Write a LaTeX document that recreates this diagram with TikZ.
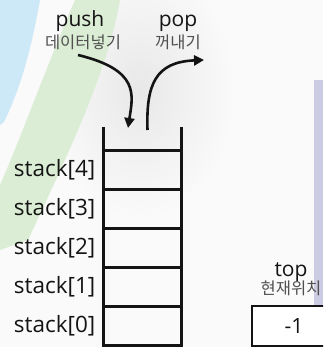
\documentclass[tikz,border=0pt]{standalone}
\usepackage{fontspec}
\setmainfont{Open Sans}
\newfontfamily\kr{Noto Sans CJK KR}
\usetikzlibrary{arrows.meta}

\definecolor{ink}{HTML}{141414}
\definecolor{subink}{HTML}{505050}
\definecolor{skyband}{HTML}{CDE8F7}
\definecolor{leafband}{HTML}{DBEDD4}
\definecolor{mist}{HTML}{E8E8E8}
\definecolor{lilac}{HTML}{CBCBE3}
\definecolor{paper}{HTML}{FAFAFA}

\tikzset{
  cell/.style={draw=ink, line width=3pt, minimum width=78pt, minimum height=39pt,
               inner sep=0pt, outer sep=0pt},
  wall/.style={draw=ink, line width=3pt},
  idx/.style={font=\fontsize{22.5}{24}\selectfont, text=ink, inner sep=0pt, anchor=east},
  opname/.style={font=\fontsize{21}{22}\selectfont, text=ink, inner sep=0pt, anchor=base},
  opnote/.style={font=\kr\fontsize{16.5}{18}\selectfont, text=subink, inner sep=0pt, anchor=base},
  flow/.style={draw=ink, line width=2.6pt, -{Triangle[length=10pt,width=10pt]}},
  topbox/.style={draw=ink, line width=2.8pt, minimum width=84pt, minimum height=40pt,
                 inner sep=0pt, outer sep=0pt, fill=white, font=\fontsize{21}{22}\selectfont, text=ink}
}

\begin{document}
\begin{tikzpicture}[x=1pt,y=-1pt]
\useasboundingbox (0,0) rectangle (323,347);
\clip (0,0) rectangle (323,347);

% soft backdrop
\fill[paper] (0,0) rectangle (323,347);
\shade[inner color=mist, outer color=paper] (140,90) ellipse (95 and 130);
\fill[skyband] (0,0) -- (40,0) .. controls (32,45) and (22,85) .. (4,122) -- (0,125) -- cycle;
\fill[leafband] (75,0) -- (120,0) .. controls (108,70) and (70,150) .. (28,240)
  -- (0,250) -- (0,185) .. controls (20,140) and (45,70) .. (75,0) -- cycle;
\fill[lilac] (314,80) rectangle (323,347);

% stack cells, bottom to top
\node[cell] (c0) at (142.5,326) {};
\node[cell] (c1) at (142.5,287) {};
\node[cell] (c2) at (142.5,248) {};
\node[cell] (c3) at (142.5,209) {};
\node[cell] (c4) at (142.5,170) {};

% open top of the stack
\coordinate (lw) at (103.5,127);
\coordinate (rw) at (181.5,127);
\draw[wall] (c4.north west) -- (c4.north west |- lw);
\draw[wall] (c4.north east) -- (c4.north east |- rw);

% index labels
\foreach \i in {0,...,4}
  \node[idx] (l\i) at ([xshift=-8pt]c\i.west) {stack[\i]};

% operation captions
\node[opname] (push) at (80,27) {push};
\node[opnote] (pushk) at (83,49) {\kr 데이터넣기};
\node[opname] (pop) at (178,27) {pop};
\node[opnote] (popk) at (178,49) {\kr 꺼내기};

% push / pop arrows
\coordinate (pushs) at (78,55);
\coordinate (pushe) at (128,128);
\coordinate (pops) at (147.5,130);
\coordinate (pope) at (204,60);
\draw[flow] (pushs) .. controls (140,70) and (133,95) .. (pushe);
\draw[flow] (pops) .. controls (146,85) and (155,62) .. (pope);

% top pointer
\node[opname] (top) at (291,276) {top};
\node[opnote] (topk) at (291,294) {\kr 현재위치};
\node[topbox] (tv) at (294,326) {-1};
\end{tikzpicture}
\end{document}
